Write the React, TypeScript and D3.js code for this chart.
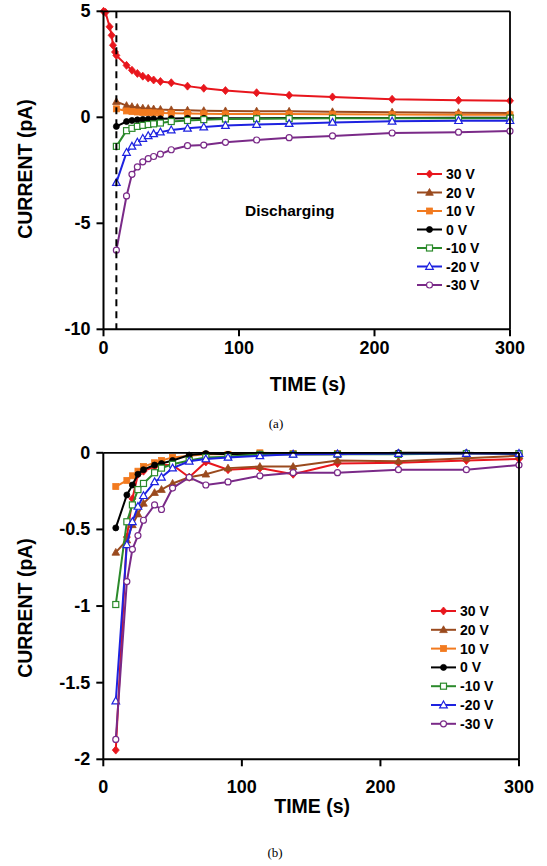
import * as d3 from "d3";

// legend / series setup
const seriesNames = ["30 V", "20 V", "10 V", "0 V", "-10 V", "-20 V", "-30 V"];
const seriesColors = ["#e8161d", "#9a4a1e", "#f27a1f", "#000000", "#2b8a2b", "#1e22e0", "#7a2a88"];
const markerShapes = ["diamond", "triangle", "square", "circle", "square", "triangle", "circle"];
const markerHollow = [false, false, false, false, true, true, true];

// (a) discharging
const timesA = [9.5, 17, 21, 25, 29, 33, 37, 42, 50, 62, 74, 90, 113, 137, 169, 213, 262, 300];
const timesA30 = [0, 1.5, 4.5, 6, 7, 8.5, 9.5, 17, 21, 25, 29, 33, 37, 42, 50, 62, 74, 90, 113, 137, 169, 213, 262, 300];
const a30 = [5.0, 4.95, 4.27, 3.87, 3.4, 3.08, 2.92, 2.45, 2.22, 2.07, 1.94, 1.85, 1.76, 1.69, 1.63, 1.47, 1.37, 1.26, 1.16, 1.04, 0.96, 0.85, 0.8, 0.78];
const a20 = [0.74, 0.55, 0.5, 0.46, 0.43, 0.41, 0.39, 0.37, 0.35, 0.33, 0.31, 0.3, 0.29, 0.28, 0.26, 0.24, 0.22, 0.2];
const a10 = [0.4, 0.3, 0.27, 0.25, 0.23, 0.22, 0.21, 0.2, 0.19, 0.18, 0.17, 0.16, 0.15, 0.15, 0.14, 0.13, 0.12, 0.12];
const a0 = [-0.43, -0.2, -0.15, -0.12, -0.1, -0.09, -0.08, -0.07, -0.06, -0.05, -0.05, -0.04, -0.04, -0.03, -0.03, -0.03, -0.02, -0.02];
const am10 = [-1.37, -0.63, -0.52, -0.43, -0.38, -0.34, -0.31, -0.27, -0.2, -0.15, -0.11, -0.08, -0.07, -0.06, -0.05, -0.05, -0.04, -0.04];
const am20 = [-3.08, -1.66, -1.37, -1.18, -1.0, -0.87, -0.78, -0.7, -0.6, -0.52, -0.46, -0.39, -0.34, -0.3, -0.24, -0.19, -0.16, -0.16];
const am30 = [-6.27, -3.71, -2.69, -2.34, -2.1, -1.95, -1.85, -1.74, -1.53, -1.34, -1.31, -1.18, -1.07, -0.96, -0.88, -0.74, -0.7, -0.65];
const dischargeStart = 9.5;

// (b)
const timesB = [9, 17, 21, 25, 29, 37, 42, 50, 62, 74, 90, 113, 137, 169, 213, 262, 300];
const b30 = [-1.94, -0.55, -0.3, -0.14, -0.12, -0.09, -0.08, -0.08, -0.16, -0.06, -0.11, -0.1, -0.14, -0.07, -0.065, -0.05, -0.04];
const b20 = [-0.65, -0.57, -0.47, -0.4, -0.33, -0.26, -0.24, -0.2, -0.16, -0.14, -0.1, -0.09, -0.09, -0.05, -0.055, -0.035, -0.02];
const b10 = [-0.22, -0.18, -0.15, -0.12, -0.09, -0.065, -0.05, -0.03, -0.02, -0.01, -0.01, 0, -0.005, -0.005, -0.005, -0.005, -0.005];
const b0 = [-0.49, -0.275, -0.21, -0.14, -0.11, -0.08, -0.07, -0.05, -0.015, -0.005, -0.01, -0.01, -0.01, -0.01, 0, 0, -0.01];
const bm10 = [-0.99, -0.45, -0.34, -0.24, -0.2, -0.13, -0.1, -0.075, -0.05, -0.03, -0.025, -0.01, -0.01, -0.01, -0.01, -0.005, -0.005];
const bm20 = [-1.62, -0.6, -0.45, -0.35, -0.28, -0.19, -0.16, -0.1, -0.055, -0.04, -0.03, -0.02, -0.01, -0.008, -0.005, -0.005, -0.005];
const bm30 = [-1.87, -0.84, -0.63, -0.54, -0.44, -0.34, -0.37, -0.23, -0.16, -0.21, -0.19, -0.15, -0.13, -0.13, -0.11, -0.11, -0.08];

const xTicks = [0, 100, 200, 300];
const yTicksA = [5, 0, -5, -10];
const yTicksB = [0, -0.5, -1, -1.5, -2];

const FONT = "'Liberation Sans', Arial, sans-serif";

function Marker({ shape, x, y, color, hollow }: any) {
  const fill = hollow ? "#fff" : color;
  const sw = hollow ? 1.2 : 0.8;
  if (shape === "circle") return <circle cx={x} cy={y} r={3} fill={fill} stroke={color} strokeWidth={sw} />;
  if (shape === "square") return <rect x={x - 3} y={y - 3} width={6} height={6} fill={fill} stroke={color} strokeWidth={sw} />;
  if (shape === "triangle")
    return <path d={`M${x},${y - 4}L${x + 3.8},${y + 2.8}L${x - 3.8},${y + 2.8}Z`} fill={fill} stroke={color} strokeWidth={sw} />;
  return <path d={`M${x},${y - 4}L${x + 3.5},${y}L${x},${y + 4}L${x - 3.5},${y}Z`} fill={fill} stroke={color} strokeWidth={sw} />;
}

function Panel({ x0, x1, yTop, yBot, yDomain, yTicks, series, legendX, legendY, legendStep, xLabelY, xTitleY, yTitleY, dashedAt, children }: any) {
  const x = d3.scaleLinear().domain([0, 300]).range([x0, x1]);
  const y = d3.scaleLinear().domain(yDomain).range([yBot, yTop]);
  const line = d3.line<[number, number]>().x((d) => x(d[0])).y((d) => y(d[1]));
  return (
    <g>
      {series.map((s: any, i: number) => {
        const pts: [number, number][] = s.t.map((t: number, j: number) => [t, s.v[j]]);
        return (
          <g key={i}>
            <path d={line(pts) || ""} fill="none" stroke={seriesColors[i]} strokeWidth={2} />
            {pts.map((p, j) => (
              <Marker key={j} shape={markerShapes[i]} x={x(p[0])} y={y(p[1])} color={seriesColors[i]} hollow={markerHollow[i]} />
            ))}
          </g>
        );
      })}
      {dashedAt != null && (
        <line x1={x(dashedAt)} x2={x(dashedAt)} y1={yTop} y2={yBot} stroke="#000" strokeWidth={2} strokeDasharray="7,5" />
      )}
      {/* frame */}
      <line x1={x0} x2={x1} y1={yTop} y2={yTop} stroke="#000" strokeWidth={1.8} />
      <line x1={x1} x2={x1} y1={yTop} y2={yBot} stroke="#000" strokeWidth={1.8} />
      <line x1={x0} x2={x1} y1={yBot} y2={yBot} stroke="#000" strokeWidth={2} />
      <line x1={x0} x2={x0} y1={yTop} y2={yBot} stroke="#000" strokeWidth={2} />
      {yTicks.map((v: number) => (
        <g key={"y" + v}>
          <line x1={x0 - 7} x2={x0} y1={y(v)} y2={y(v)} stroke="#000" strokeWidth={2} />
          <text x={x0 - 13} y={y(v) + 6} textAnchor="end" fontFamily={FONT} fontWeight="bold" fontSize={18}>
            {String(v)}
          </text>
        </g>
      ))}
      {xTicks.map((v) => (
        <g key={"x" + v}>
          <line x1={x(v)} x2={x(v)} y1={yBot} y2={yBot + 7} stroke="#000" strokeWidth={2} />
          <text x={x(v)} y={xLabelY} textAnchor="middle" fontFamily={FONT} fontWeight="bold" fontSize={18}>
            {String(v)}
          </text>
        </g>
      ))}
      <text x={(x0 + x1) / 2 + 1} y={xTitleY} textAnchor="middle" fontFamily={FONT} fontWeight="bold" fontSize={19.5}>
        TIME (s)
      </text>
      <text transform={`translate(32,${yTitleY}) rotate(-90)`} textAnchor="middle" fontFamily={FONT} fontWeight="bold" fontSize={19.5}>
        CURRENT (pA)
      </text>
      {seriesNames.map((n, i) => {
        const ly = legendY + i * legendStep;
        return (
          <g key={n}>
            <line x1={legendX} x2={legendX + 25} y1={ly} y2={ly} stroke={seriesColors[i]} strokeWidth={2} />
            <Marker shape={markerShapes[i]} x={legendX + 12.5} y={ly} color={seriesColors[i]} hollow={markerHollow[i]} />
            <text x={legendX + 29} y={ly + 5} fontFamily={FONT} fontWeight="bold" fontSize={14}>
              {n}
            </text>
          </g>
        );
      })}
      {children}
    </g>
  );
}

export default function App() {
  const seriesA = [
    { t: timesA30, v: a30 },
    { t: timesA, v: a20 },
    { t: timesA, v: a10 },
    { t: timesA, v: a0 },
    { t: timesA, v: am10 },
    { t: timesA, v: am20 },
    { t: timesA, v: am30 },
  ];
  const seriesB = [
    { t: timesB, v: b30 },
    { t: timesB, v: b20 },
    { t: timesB, v: b10 },
    { t: timesB, v: b0 },
    { t: timesB, v: bm10 },
    { t: timesB, v: bm20 },
    { t: timesB, v: bm30 },
  ];
  return (
    <svg width={547} height={866} style={{ position: "absolute", left: 0, top: 0, background: "#fff" }}>
      <rect width={547} height={866} fill="#fff" />
      <Panel
        x0={103.5} x1={510} yTop={11.3} yBot={329.3} yDomain={[-10, 5]} yTicks={yTicksA}
        series={seriesA} legendX={417} legendY={174} legendStep={18.5}
        xLabelY={354} xTitleY={391} yTitleY={169} dashedAt={dischargeStart}
      >
        <text x={245} y={216} fontFamily={FONT} fontWeight="bold" fontSize={15.5}>Discharging</text>
      </Panel>
      <text x={276} y={428} textAnchor="middle" fontFamily="'Liberation Serif', serif" fontSize={13}>(a)</text>
      <Panel
        x0={103.3} x1={519} yTop={452.8} yBot={759.3} yDomain={[-2, 0]} yTicks={yTicksB}
        series={seriesB} legendX={431} legendY={611} legendStep={18.8}
        xLabelY={793} xTitleY={813} yTitleY={608} dashedAt={null}
      />
      <text x={275} y={857} textAnchor="middle" fontFamily="'Liberation Serif', serif" fontSize={13}>(b)</text>
    </svg>
  );
}
